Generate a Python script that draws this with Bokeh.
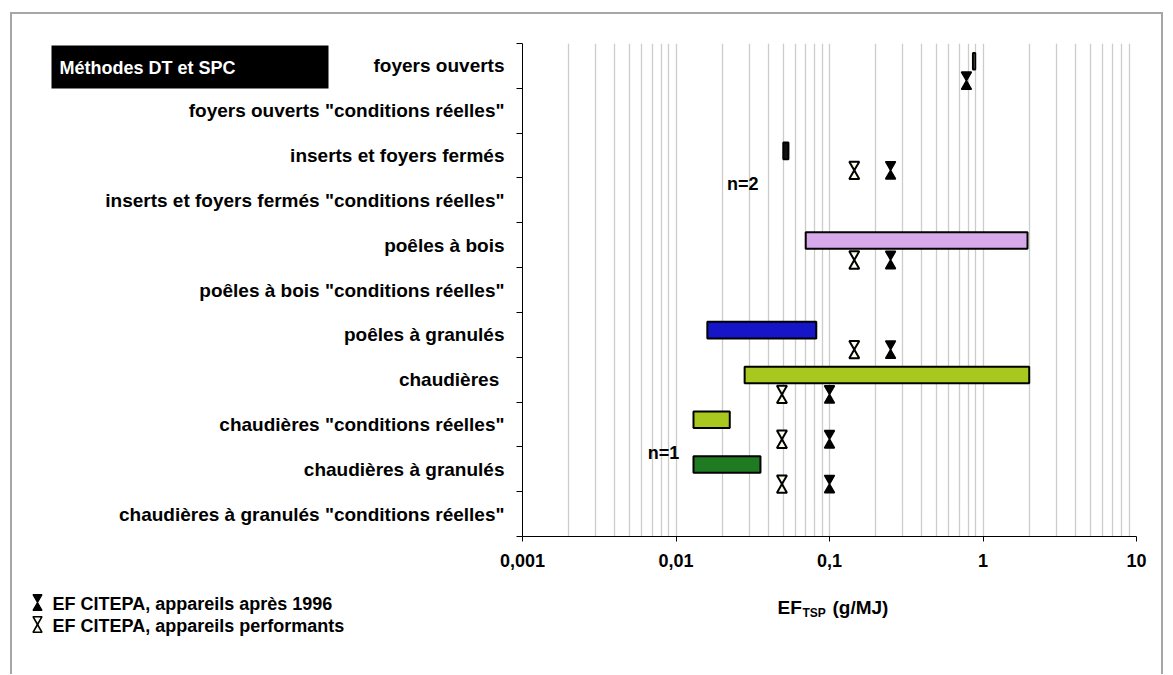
import math
from bokeh.plotting import figure
from bokeh.models import Range1d, FixedTicker
from bokeh.core.properties import value
from bokeh.embed import file_html
from bokeh.resources import INLINE

# ---------------- data ----------------
categories = [
    "foyers ouverts",
    'foyers ouverts "conditions réelles"',
    "inserts et foyers fermés",
    'inserts et foyers fermés "conditions réelles"',
    "poêles à bois",
    'poêles à bois "conditions réelles"',
    "poêles à granulés",
    "chaudières ",
    'chaudières "conditions réelles"',
    "chaudières à granulés",
    'chaudières à granulés "conditions réelles"',
]

bar_categories = ["foyers ouverts", "inserts et foyers fermés", "poêles à bois",
                  "poêles à granulés", "chaudières ", 'chaudières "conditions réelles"',
                  "chaudières à granulés"]
bar_low = [0.86, 0.050, 0.070, 0.016, 0.028, 0.013, 0.013]
bar_high = [0.89, 0.054, 1.95, 0.082, 2.0, 0.0224, 0.0355]
bar_colors = ["#f4f1c2", "#111111", "#d7a8ea", "#1616c8", "#a8c820", "#a8c820", "#1f7a22"]

ef_1996_categories = ["foyers ouverts", "inserts et foyers fermés", "poêles à bois",
                      "poêles à granulés", "chaudières ", 'chaudières "conditions réelles"',
                      "chaudières à granulés"]
ef_1996_values = [0.78, 0.25, 0.25, 0.25, 0.10, 0.10, 0.10]

ef_perf_categories = ["inserts et foyers fermés", "poêles à bois", "poêles à granulés",
                      "chaudières ", 'chaudières "conditions réelles"', "chaudières à granulés"]
ef_perf_values = [0.145, 0.145, 0.145, 0.049, 0.049, 0.049]

n_labels = ["n=2", "n=1"]
n_categories = ['inserts et foyers fermés "conditions réelles"', "chaudières à granulés"]
n_x = [0.0272, 0.0083]

x_ticks = [0.001, 0.01, 0.1, 1, 10]
x_tick_labels = ["0,001", "0,01", "0,1", "1", "10"]

legend_labels = ["EF CITEPA, appareils après 1996", "EF CITEPA, appareils performants"]
title_text = "Méthodes DT et SPC"
axis_title_parts = ["EF", "TSP", "(g/MJ)"]

# ---------------- layout / style ----------------
FONT = "Liberation Sans"
W, H = 1165, 674
FL, FR, FT, FB = 522, 1136, 43, 536          # frame edges on the page
ROW_PX = (FB - FT) / len(categories)

BAR_POS, BAR_H = 0.395, 0.37
MARK_POS = 0.83
TRI = 10
tri_h = TRI / 2 * math.sqrt(3)
off = (2 * tri_h / 3) / ROW_PX
HOLLOW = "#fbfbe6"

p = figure(width=W, height=H, x_axis_type="log", title=None,
           x_range=Range1d(0.001, 10), y_range=Range1d(len(categories), 0),
           output_backend="svg", toolbar_location=None,
           min_border_left=FL, min_border_right=W - FR, min_border_top=FT,
           min_border_bottom=H - FB)
G = "#a6a6a6"
p.styles = {
    "background-image": f"linear-gradient({G},{G}), linear-gradient({G},{G}), linear-gradient({G},{G})",
    "background-size": "2px 100%, 1153px 2px, 2px 100%",
    "background-position": "10px 12px, 10px 12px, 1161px 12px",
    "background-repeat": "no-repeat",
}
p.border_fill_alpha = 0
p.outline_line_color = None
p.background_fill_color = "white"

# x axis
minor = [m * 10 ** e for e in range(-3, 1) for m in range(2, 10)]
xt = FixedTicker(ticks=x_ticks, minor_ticks=minor)
xax = p.xaxis[0]
xax.ticker = xt
xax.major_label_overrides = dict(zip(x_ticks, x_tick_labels))
xax.axis_line_color = "black"
xax.major_tick_line_color = "black"
xax.major_tick_out = 5
xax.major_tick_in = 0
xax.minor_tick_line_color = None
xax.major_label_standoff = 12
xax.major_label_text_font = FONT
xax.major_label_text_font_style = "bold"
xax.major_label_text_font_size = "18px"
xax.major_label_text_color = "black"

p.xgrid[0].ticker = xt
p.xgrid.grid_line_color = "#cccccc"
p.xgrid.grid_line_width = 1.3
p.xgrid.minor_grid_line_color = "#cccccc"
p.xgrid.minor_grid_line_width = 1.3
p.ygrid.grid_line_color = None

# y axis
yt = FixedTicker(ticks=[i + 0.5 for i in range(len(categories))],
                 minor_ticks=list(range(len(categories) + 1)))
yax = p.yaxis[0]
yax.ticker = yt
yax.major_label_overrides = {i + 0.5: c for i, c in enumerate(categories)}
yax.axis_line_color = "black"
yax.major_tick_line_color = None
yax.major_tick_out = 0
yax.major_tick_in = 0
yax.minor_tick_line_color = "black"
yax.minor_tick_out = 6
yax.minor_tick_in = 0
yax.major_label_standoff = 12
yax.major_label_text_font = FONT
yax.major_label_text_font_style = "bold"
yax.major_label_text_font_size = "19px"
yax.major_label_text_color = "black"

# bars
bar_y = [categories.index(c) + BAR_POS for c in bar_categories]
p.hbar(y=bar_y, left=bar_low, right=bar_high, height=BAR_H,
       fill_color=bar_colors, line_color="black", line_width=2)

# hourglass markers (two triangles tip to tip)
y96 = [categories.index(c) + MARK_POS for c in ef_1996_categories]
yperf = [categories.index(c) + MARK_POS for c in ef_perf_categories]
p.scatter(ef_perf_values, [y - off for y in yperf], marker="inverted_triangle",
          size=TRI, fill_color=HOLLOW, line_color="black", line_width=2)
p.scatter(ef_perf_values, [y + off for y in yperf], marker="triangle",
          size=TRI, fill_color=HOLLOW, line_color="black", line_width=2)
p.scatter(ef_1996_values, [y - off for y in y96], marker="inverted_triangle",
          size=TRI, fill_color="black", line_color="black", line_width=1.5)
p.scatter(ef_1996_values, [y + off for y in y96], marker="triangle",
          size=TRI, fill_color="black", line_color="black", line_width=1.5)

# n= annotations
n_y = [categories.index(c) + 0.13 for c in n_categories]
p.text(x=n_x, y=n_y, text=n_labels, text_font=value(FONT), text_font_style="bold",
       text_font_size="18px", text_align="center", text_baseline="middle", text_color="black")

# ------------- overlay figure (pixel space) for the items outside the frame -------------
q = figure(width=W, height=H, x_range=Range1d(0, W), y_range=Range1d(H, 0), title=None,
           output_backend="svg", toolbar_location=None,
           x_axis_location=None, y_axis_location=None, min_border=0)
q.styles = {"position": "absolute", "left": "0px", "top": "0px"}
q.border_fill_alpha = 0
q.background_fill_alpha = 0
q.outline_line_color = None
q.xgrid.grid_line_color = None
q.ygrid.grid_line_color = None

# title box
q.quad(left=[51], right=[328], top=[45], bottom=[88], fill_color="black", line_color=None)
q.text(x=[59], y=[67], text=[title_text], text_font=value(FONT), text_font_style="bold",
       text_font_size="18px", text_color="white", text_align="left", text_baseline="middle")

# legend
LEG_X, YC1, ROW = 37, 602, 22
LTRI = 9
loff = 2 * (LTRI / 2 * math.sqrt(3)) / 3
leg_y = [YC1, YC1 + ROW]
q.scatter([LEG_X] * 2, [y - loff for y in leg_y], marker="inverted_triangle", size=LTRI,
          fill_color=["black", HOLLOW], line_color="black", line_width=[1.2, 1.6])
q.scatter([LEG_X] * 2, [y + loff for y in leg_y], marker="triangle", size=LTRI,
          fill_color=["black", HOLLOW], line_color="black", line_width=[1.2, 1.6])
q.text(x=[52] * 2, y=[y + 1 for y in leg_y], text=legend_labels, text_font=value(FONT),
       text_font_style="bold", text_font_size="18px", text_color="black",
       text_align="left", text_baseline="middle")

# axis title EF_TSP (g/MJ)
YT = 607
q.text(x=[777, 832], y=[YT, YT], text=[axis_title_parts[0], axis_title_parts[2]],
       text_font=value(FONT), text_font_style="bold", text_font_size="19px",
       text_color="black", text_align="left", text_baseline="middle")
q.text(x=[802], y=[YT + 5], text=[axis_title_parts[1]], text_font=value(FONT),
       text_font_style="bold", text_font_size="12px", text_color="black",
       text_align="left", text_baseline="middle")

open("out.html", "w").write(file_html([p, q], INLINE))
